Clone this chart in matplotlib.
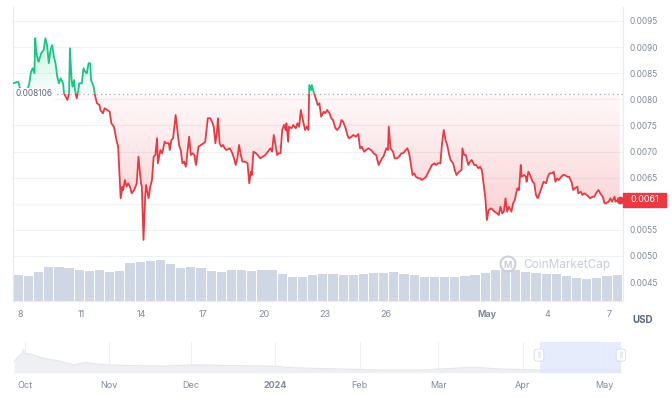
import numpy as np
import matplotlib.pyplot as plt
from matplotlib.colors import to_rgb
from matplotlib.path import Path
from matplotlib.patches import Rectangle, Ellipse
from matplotlib.transforms import blended_transform_factory

plt.rcParams['font.family'] = ['Inter', 'DejaVu Sans']

GREEN = '#16c784'
RED = '#ea3943'
GREY = '#808a9d'
DARK = '#58667e'

# hours since 2024-04-08 00:00
hours = [-8, -2, 2, 7, 11, 13, 15, 17, 18, 19,
         21, 22, 25, 28, 30, 32, 34, 36, 38, 40,
         42, 44, 46, 48, 51, 52, 54, 56, 58, 59,
         61, 62, 64, 65, 67, 69, 70, 73, 75, 77,
         79, 81, 83, 84, 87, 89, 91, 94, 95, 98,
         100, 103, 106, 108, 111, 114, 116, 117, 119, 121,
         122, 124, 126, 128, 130, 132, 135, 138, 140, 143,
         144, 146, 148, 149, 152, 154, 156, 158, 160, 162,
         163, 166, 168, 169, 171, 173, 176, 177, 179, 181,
         184, 186, 188, 190, 192, 194, 196, 200, 202, 204,
         206, 208, 211, 214, 217, 219, 222, 225, 227, 229,
         231, 233, 234, 236, 238, 240, 242, 244, 248, 251,
         253, 255, 257, 259, 261, 263, 266, 269, 271, 273,
         274, 276, 279, 281, 284, 287, 290, 293, 296, 298,
         300, 302, 304, 306, 308, 310, 312, 314, 315, 317,
         318, 321, 323, 326, 328, 330, 332, 334, 337, 339,
         341, 342, 344, 345, 347, 349, 352, 354, 356, 359,
         361, 363, 366, 368, 370, 373, 375, 378, 380, 382,
         385, 387, 389, 392, 394, 397, 400, 402, 404, 407,
         409, 412, 415, 418, 421, 424, 426, 428, 430, 433,
         435, 436, 438, 441, 443, 446, 448, 451, 453, 456,
         458, 460, 462, 464, 466, 468, 471, 473, 475, 478,
         480, 482, 485, 487, 490, 492, 494, 497, 499, 501,
         503, 505, 507, 509, 512, 514, 516, 519, 522, 523,
         525, 527, 530, 532, 534, 537, 539, 542, 544, 546,
         549, 550, 552, 554, 557, 559, 561, 564, 566, 568,
         570, 572, 574, 576, 578, 581, 583, 585, 587, 588,
         590, 592, 593, 596, 598, 599, 601, 603, 606, 608,
         610, 612, 615, 617, 619, 622, 624, 626, 629, 631,
         633, 635, 637, 640, 642, 644, 647, 649, 652, 654,
         656, 659, 660, 663, 665, 667, 670, 672, 674, 677,
         679, 681, 684, 686, 689, 691, 693, 696, 698, 700,
         703, 704, 707, 709]

price = [0.008307, 0.008337, 0.008082, 0.008044, 0.008307, 0.008529, 0.008594, 0.008498, 0.009169, 0.008944,
         0.008753, 0.008720, 0.008881, 0.008944, 0.009169, 0.009040, 0.008690, 0.008944, 0.009040, 0.008816,
         0.008690, 0.008433, 0.008307, 0.008402, 0.008307, 0.008115, 0.008050, 0.007987, 0.008115, 0.008977,
         0.008370, 0.008241, 0.008370, 0.008178, 0.008019, 0.008178, 0.008307, 0.008307, 0.008594, 0.008529,
         0.008498, 0.008690, 0.008690, 0.008370, 0.008241, 0.008050, 0.007923, 0.007891, 0.007795, 0.007732,
         0.007828, 0.007795, 0.007762, 0.007540, 0.007475, 0.007220, 0.007092, 0.006774, 0.006103, 0.006326,
         0.006262, 0.006454, 0.006326, 0.006391, 0.006326, 0.006199, 0.006262, 0.006391, 0.006900, 0.006391,
         0.006326, 0.005305, 0.006134, 0.006358, 0.006103, 0.006326, 0.006454, 0.006900, 0.006933, 0.007253,
         0.006774, 0.007029, 0.006966, 0.007029, 0.007188, 0.007157, 0.007157, 0.007029, 0.007220, 0.007253,
         0.007699, 0.007412, 0.007125, 0.007029, 0.006774, 0.006805, 0.006709, 0.007284, 0.006933, 0.006966,
         0.006933, 0.006741, 0.007092, 0.007125, 0.007157, 0.007188, 0.007636, 0.007636, 0.007571, 0.007475,
         0.007157, 0.007412, 0.007636, 0.007157, 0.007092, 0.007125, 0.007061, 0.007029, 0.007061, 0.006966,
         0.006870, 0.006741, 0.006870, 0.007125, 0.006933, 0.006805, 0.006805, 0.006774, 0.006391, 0.006613,
         0.006550, 0.006996, 0.006966, 0.006933, 0.006870, 0.006900, 0.006933, 0.006996, 0.007061, 0.006996,
         0.007316, 0.007125, 0.006933, 0.006966, 0.006966, 0.007412, 0.007508, 0.007412, 0.007540, 0.007188,
         0.007475, 0.007444, 0.007508, 0.007444, 0.007540, 0.007475, 0.007795, 0.007636, 0.007412, 0.007475,
         0.007412, 0.008274, 0.008178, 0.008274, 0.008146, 0.008050, 0.007891, 0.007923, 0.007667, 0.007762,
         0.007732, 0.007795, 0.007732, 0.007636, 0.007603, 0.007444, 0.007412, 0.007475, 0.007603, 0.007571,
         0.007444, 0.007316, 0.007253, 0.007284, 0.007316, 0.007284, 0.007335, 0.007061, 0.007092, 0.006996,
         0.007029, 0.007061, 0.007029, 0.006966, 0.006933, 0.006741, 0.006805, 0.006870, 0.006914, 0.007061,
         0.007029, 0.007475, 0.007061, 0.006996, 0.006870, 0.006870, 0.006900, 0.006966, 0.006966, 0.007029,
         0.007061, 0.006966, 0.006774, 0.006550, 0.006582, 0.006517, 0.006487, 0.006487, 0.006454, 0.006487,
         0.006517, 0.006582, 0.006678, 0.006741, 0.006774, 0.006741, 0.006774, 0.006774, 0.007157, 0.007412,
         0.007220, 0.007125, 0.006966, 0.006837, 0.006774, 0.006646, 0.006550, 0.006613, 0.006646, 0.007061,
         0.006933, 0.006933, 0.006741, 0.006805, 0.006837, 0.006741, 0.006741, 0.006678, 0.006709, 0.006646,
         0.006262, 0.006134, 0.005688, 0.005879, 0.005912, 0.005879, 0.005847, 0.005816, 0.005784, 0.005943,
         0.005816, 0.005847, 0.006103, 0.005847, 0.005943, 0.005847, 0.006008, 0.006071, 0.006230, 0.006295,
         0.006262, 0.006741, 0.006517, 0.006550, 0.006517, 0.006421, 0.006613, 0.006550, 0.006421, 0.006391,
         0.006167, 0.006103, 0.006230, 0.006326, 0.006421, 0.006391, 0.006517, 0.006582, 0.006582, 0.006613,
         0.006421, 0.006487, 0.006454, 0.006517, 0.006550, 0.006550, 0.006517, 0.006517, 0.006421, 0.006262,
         0.006295, 0.006326, 0.006199, 0.006230, 0.006167, 0.006199, 0.006167, 0.006134, 0.006103, 0.006134,
         0.006134, 0.006199, 0.006262, 0.006199, 0.006134, 0.006008, 0.006008, 0.006038, 0.006103, 0.006038,
         0.006134, 0.006038, 0.006071, 0.006075]

baseline = 0.008106

# 12h volume, millions USD, bars centred every 12 hours from hour -2
vol_hours = [-2 + 12 * i for i in range(60)]
volume = [12.9, 12.5, 14.4, 17.0, 16.7, 16.2, 15.4, 15.0, 15.5, 14.4,
          14.7, 18.7, 19.4, 19.7, 20.5, 18.4, 16.2, 16.9, 16.4, 15.0,
          14.5, 15.2, 15.5, 15.0, 15.4, 15.2, 13.4, 12.0, 12.0, 12.7,
          13.2, 13.2, 12.9, 13.0, 13.2, 13.7, 13.9, 14.2, 13.5, 12.9,
          12.0, 11.7, 11.7, 11.9, 12.2, 12.7, 14.0, 15.4, 15.5, 15.4,
          14.5, 14.0, 13.5, 13.2, 12.4, 11.4, 11.0, 11.4, 12.4, 12.9]

x_ticks = [0, 72, 144, 216, 288, 360, 432, 552, 624, 696]
x_labels = ['8', '11', '14', '17', '20', '23', '26', 'May', '4', '7']
y_ticks = [0.0045, 0.0050, 0.0055, 0.0060, 0.0065, 0.0070, 0.0075, 0.0080, 0.0085, 0.0090, 0.0095]

# navigator: days since 2023-10-01, relative level
nav_day = [-4, -2.5, -1, -0.5, 0, 2, 4, 7, 9, 12, 15, 18, 20, 23, 26, 31, 40, 52, 63, 77,
           91, 96, 101, 116, 131, 145, 165, 175, 189, 204, 219]
nav_level = [11.0, 16.0, 19.4, 22.7, 19.4, 18.7, 16.7, 14.4, 13.4, 12.0, 10.0, 7.7, 9.4, 10.0, 8.7,
             7.7, 7.0, 6.7, 8.0, 7.0, 6.7, 5.4, 4.7, 3.7, 2.7, 2.7, 5.4, 3.7, 2.7, 2.7, 2.7]
months = [0, 31, 61, 92, 123, 152, 183, 213]
month_labels = ['Oct', 'Nov', 'Dec', '2024', 'Feb', 'Mar', 'Apr', 'May']

h = np.array(hours)
p = np.array(price)

fig = plt.figure(figsize=(6.72, 3.97), dpi=100)
ax = fig.add_axes([13/672, 1 - 300.7/397, 610/672, 293.7/397])
ax_vol = ax.twinx()

# volume
ax_vol.bar(vol_hours, volume, width=10.9, color='#cfd6e4', linewidth=0)
ax_vol.set_ylim(0, 146.85)
ax_vol.set_yticks([])
for s in ax_vol.spines.values():
    s.set_visible(False)

ymin, ymax = 0.004142, 0.009768
xmin, xmax = -8.3, 712.9


def gradient_fill(mask, color, y0, y1, a0, a1):
    coll = ax.fill_between(h, p, baseline, where=mask, interpolate=True, color='none', lw=0)
    path = Path.make_compound_path(*coll.get_paths())
    img = np.zeros((200, 1, 4))
    img[:, :, :3] = to_rgb(color)
    img[:, 0, 3] = np.linspace(a0, a1, 200)
    im = ax.imshow(img, extent=[h[0], h[-1], y0, y1], origin='lower', aspect='auto',
                   zorder=2, interpolation='bilinear')
    im.set_clip_path(path, transform=ax.transData)


gradient_fill(p <= baseline, RED, p.min(), baseline, 0.26, 0.03)
gradient_fill(p >= baseline, GREEN, baseline, p.max(), 0.03, 0.22)

line_g, = ax.plot(h, p, color=GREEN, lw=1.3, zorder=4, solid_joinstyle='round')
line_r, = ax.plot(h, p, color=RED, lw=1.3, zorder=4, solid_joinstyle='round')
line_g.set_clip_path(Rectangle((xmin, baseline), xmax - xmin, ymax - baseline, transform=ax.transData))
line_r.set_clip_path(Rectangle((xmin, ymin), xmax - xmin, baseline - ymin, transform=ax.transData))

ax.axhline(baseline, color='#a6b0c3', lw=0.9, ls=(0, (1, 2.5)), zorder=3)
ax.text(-4.8, baseline, f'{baseline:.6f}', fontsize=6, color=DARK, va='center', ha='left',
        bbox=dict(fc='white', ec='none', pad=1.2), zorder=5)

# last price marker and tag
ax.plot(h[-1], p[-1], 'o', color=RED, ms=4.5, zorder=5, clip_on=False)
bt = blended_transform_factory(ax.transAxes, ax.transData)
ax.add_patch(Rectangle((1.0, p[-1] - 0.000134), 43/610, 0.000268, transform=bt,
                       color=RED, zorder=6, clip_on=False))
ax.text(1.0 + 21.5/610, p[-1], f'{p[-1]:.4f}', transform=bt, color='white', fontsize=6.5,
        ha='center', va='center', zorder=7, clip_on=False)

ax.set_xlim(xmin, xmax)
ax.set_ylim(ymin, ymax)
ax.set_yticks(y_ticks)
ax.set_yticklabels(['' if abs(t - 0.006) < 1e-9 else f'{t:.4f}' for t in y_ticks])
ax.yaxis.tick_right()
ax.set_xticks(x_ticks)
ax.set_xticklabels(x_labels)
lbl = ax.get_xticklabels()[7]
lbl.set_fontweight('bold')
lbl.set_color(DARK)
ax.grid(axis='y', color='#eff2f5', lw=0.8)
ax.set_axisbelow(True)
ax.tick_params(axis='y', length=0, pad=5, labelsize=6, labelcolor=GREY)
ax.tick_params(axis='x', length=0, pad=7, labelsize=6.5, labelcolor=GREY)
ax.spines['top'].set_visible(False)
for s in ['left', 'right', 'bottom']:
    ax.spines[s].set_color('#e8ebef')
    ax.spines[s].set_linewidth(0.8)

fig.text(643/672, 1 - 320/397, 'USD', fontsize=7, weight='bold', color=DARK, ha='center', va='center')

# watermark
fig.add_artist(Ellipse((508/672, 1 - 264/397), 15/672, 15/397, transform=fig.transFigure,
                       fill=False, ec='#c5cfdd', lw=1.4))
fig.text(508/672, 1 - 265/397, 'M', fontsize=6.5, weight='bold', color='#c5cfdd', ha='center', va='center')
fig.text(523/672, 1 - 265/397, 'CoinMarketCap', fontsize=8.5, color='#c5cfdd', ha='left', va='center')

# navigator
nav = fig.add_axes([13/672, 1 - 372.7/397, 609/672, 31/397])
for m in months:
    nav.axvline(m, color='#eef0f3', lw=0.8, zorder=0)
nav.fill_between(nav_day, nav_level, color='#eef0f3', lw=0, zorder=1)
nav.plot(nav_day, nav_level, color='#e2e5ea', lw=0.8, zorder=2)
nav.axvspan(189.5, 219.3, color='#dfe6fb', alpha=0.75, lw=0, zorder=3)
for d in [189.0, 219.1]:
    nav.text(d, 17.6, '||', fontsize=4, color='#a6b0c3', ha='center', va='center', zorder=5,
             bbox=dict(boxstyle='round,pad=0.5', fc='white', ec='#d5dbe5', lw=0.6))
nav.set_xlim(-4.41, 219.5)
nav.set_ylim(0, 31)
nav.set_yticks([])
nav.set_xticks(months)
nav.set_xticklabels(month_labels)
nl = nav.get_xticklabels()[3]
nl.set_fontweight('bold')
nl.set_color(DARK)
nav.tick_params(axis='x', length=0, pad=6, labelsize=6.5, labelcolor=GREY)
for s in nav.spines.values():
    s.set_visible(False)
nav.patch.set_alpha(0)

fig.savefig('out.png', dpi=100)
